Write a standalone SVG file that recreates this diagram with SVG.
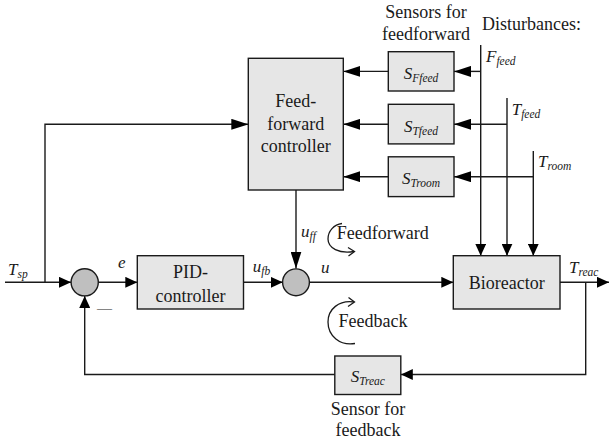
<svg xmlns="http://www.w3.org/2000/svg" width="609" height="443" viewBox="0 0 609 443" font-family="'Liberation Serif', 'Times New Roman', serif">
  <style>
    .box { fill: #e6e6e6; stroke: #1a1a1a; stroke-width: 1.4; }
    .sum { fill: #bfbfbf; stroke: #1a1a1a; stroke-width: 1.4; }
    .wire { fill: none; stroke: #1a1a1a; stroke-width: 1.4; }
    .loop { fill: none; stroke: #1a1a1a; stroke-width: 1.3; }
    .lbl { font-family: 'Liberation Serif', 'Times New Roman', serif; font-size: 18px; fill: #1a1a1a; }
    .var { font-family: 'Liberation Serif', 'Times New Roman', serif; font-size: 17px; font-style: italic; fill: #1a1a1a; }
    .sub { font-size: 11.5px; }
    .mid { text-anchor: middle; }
  </style>
  <defs>
    <marker id="ah" markerUnits="userSpaceOnUse" markerWidth="12" markerHeight="11" refX="12" refY="5.5" orient="auto">
      <path d="M0,0 L12,5.5 L0,11 Z" fill="#000"/>
    </marker>
    <marker id="ahl" markerUnits="userSpaceOnUse" markerWidth="17" markerHeight="11" refX="17" refY="5.5" orient="auto">
      <path d="M0,0 L17,5.5 L0,11 Z" fill="#000"/>
    </marker>
  </defs>

  <!-- connectors -->
  <g id="connectors">
    <path class="wire" d="M5,282.3 H71" marker-end="url(#ah)"/>
    <path class="wire" d="M45,282.3 V124.3 H248.3" marker-end="url(#ahl)"/>
    <path class="wire" d="M98.3,282.3 H137.3" marker-end="url(#ah)"/>
    <path class="wire" d="M243.5,282.3 H282.7" marker-end="url(#ah)"/>
    <path class="wire" d="M296,190 V268.5" marker-end="url(#ahl)"/>
    <path class="wire" d="M309.3,282.3 H453.3" marker-end="url(#ah)"/>
    <path class="wire" d="M560,282.3 H609" marker-end="url(#ah)"/>
    <path class="wire" d="M585.7,282.3 V374.5 H400.8" marker-end="url(#ah)"/>
    <path class="wire" d="M334.8,374.5 H84.7 V296" marker-end="url(#ah)"/>
    <!-- disturbance lines into the reactor -->
    <path class="wire" d="M480.7,45 V255.7" marker-end="url(#ah)"/>
    <path class="wire" d="M507,98 V255.7" marker-end="url(#ah)"/>
    <path class="wire" d="M533.3,151 V255.7" marker-end="url(#ah)"/>
    <!-- disturbances to sensors -->
    <path class="wire" d="M480.7,71.4 H454" marker-end="url(#ahl)"/>
    <path class="wire" d="M507,124.3 H454" marker-end="url(#ahl)"/>
    <path class="wire" d="M533.3,176.7 H454" marker-end="url(#ahl)"/>
    <!-- sensors to feedforward controller -->
    <path class="wire" d="M388.3,71.4 H343.3" marker-end="url(#ahl)"/>
    <path class="wire" d="M388.3,124.3 H343.3" marker-end="url(#ahl)"/>
    <path class="wire" d="M388.3,176.7 H343.3" marker-end="url(#ahl)"/>
    <!-- loop direction indicators -->
    <path class="loop" d="M342,223.5 C334,224.5 328,231 328,239 C328,248 339,254 354,251.5"/>
    <path class="loop" d="M348,247.5 L354.5,251.5 L348.5,256"/>
    <path class="loop" d="M355,343.5 C340,346 328,336 328,322 C328,309 339,300 354,302"/>
    <path class="loop" d="M348.5,297.5 L354.5,302 L348,306.5"/>
  </g>

  <!-- feedforward controller -->
  <g id="ff-controller">
    <rect class="box" x="248.3" y="58.3" width="95" height="131.7"/>
    <text class="lbl mid" x="295.7" y="107">Feed-</text>
    <text class="lbl mid" x="295.7" y="129.5">forward</text>
    <text class="lbl mid" x="295.7" y="152">controller</text>
  </g>

  <!-- feedforward sensors -->
  <g id="sensor-ffeed">
    <rect class="box" x="388.3" y="51.7" width="65.7" height="39.3"/>
    <text class="var mid" x="421" y="78.5">S<tspan class="sub" dy="3">Ffeed</tspan></text>
  </g>
  <g id="sensor-tfeed">
    <rect class="box" x="388.3" y="104.3" width="65.7" height="39.6"/>
    <text class="var mid" x="421" y="131.5">S<tspan class="sub" dy="3">Tfeed</tspan></text>
  </g>
  <g id="sensor-troom">
    <rect class="box" x="388.3" y="156.8" width="65.7" height="39.8"/>
    <text class="var mid" x="421" y="184">S<tspan class="sub" dy="3">Troom</tspan></text>
  </g>

  <!-- summing junctions -->
  <g id="sum-error">
    <circle class="sum" cx="84.7" cy="282.3" r="13.6"/>
  </g>
  <g id="sum-control">
    <circle class="sum" cx="296" cy="282.3" r="13.4"/>
  </g>

  <!-- PID controller -->
  <g id="pid">
    <rect class="box" x="137.3" y="255.7" width="106.2" height="53.3"/>
    <text class="lbl mid" x="190.4" y="278">PID-</text>
    <text class="lbl mid" x="190.4" y="301.5">controller</text>
  </g>

  <!-- process -->
  <g id="bioreactor">
    <rect class="box" x="453.3" y="255.7" width="106.7" height="53.3"/>
    <text class="lbl mid" x="506.7" y="288.5">Bioreactor</text>
  </g>

  <!-- feedback sensor -->
  <g id="sensor-treac">
    <rect class="box" x="334.8" y="356" width="66" height="38.5"/>
    <text class="var mid" x="367.8" y="381.5">S<tspan class="sub" dy="3">Treac</tspan></text>
  </g>

  <!-- signal labels -->
  <g id="labels">
    <text class="var" x="8" y="275">T<tspan class="sub" dy="3">sp</tspan></text>
    <text class="var" x="118" y="268">e</text>
    <text class="var" x="252.7" y="271.5">u<tspan class="sub" dy="3">fb</tspan></text>
    <text class="var" x="321" y="273">u</text>
    <text class="var" x="301" y="237">u<tspan class="sub" dy="3">ff</tspan></text>
    <text class="var" x="569" y="273">T<tspan class="sub" dy="3">reac</tspan></text>
    <text class="var" x="486" y="62">F<tspan class="sub" dy="3">feed</tspan></text>
    <text class="var" x="511.7" y="115">T<tspan class="sub" dy="3">feed</tspan></text>
    <text class="var" x="538" y="167">T<tspan class="sub" dy="3">room</tspan></text>
    <text class="lbl" x="97" y="312.5" style="font-size:15px">—</text>
    <text class="lbl" x="336.7" y="239">Feedforward</text>
    <text class="lbl" x="338.6" y="327">Feedback</text>
    <text class="lbl mid" x="426" y="18">Sensors for</text>
    <text class="lbl mid" x="426" y="40">feedforward</text>
    <text class="lbl" x="482" y="30">Disturbances:</text>
    <text class="lbl mid" x="368" y="415">Sensor for</text>
    <text class="lbl mid" x="368" y="436">feedback</text>
  </g>
</svg>
